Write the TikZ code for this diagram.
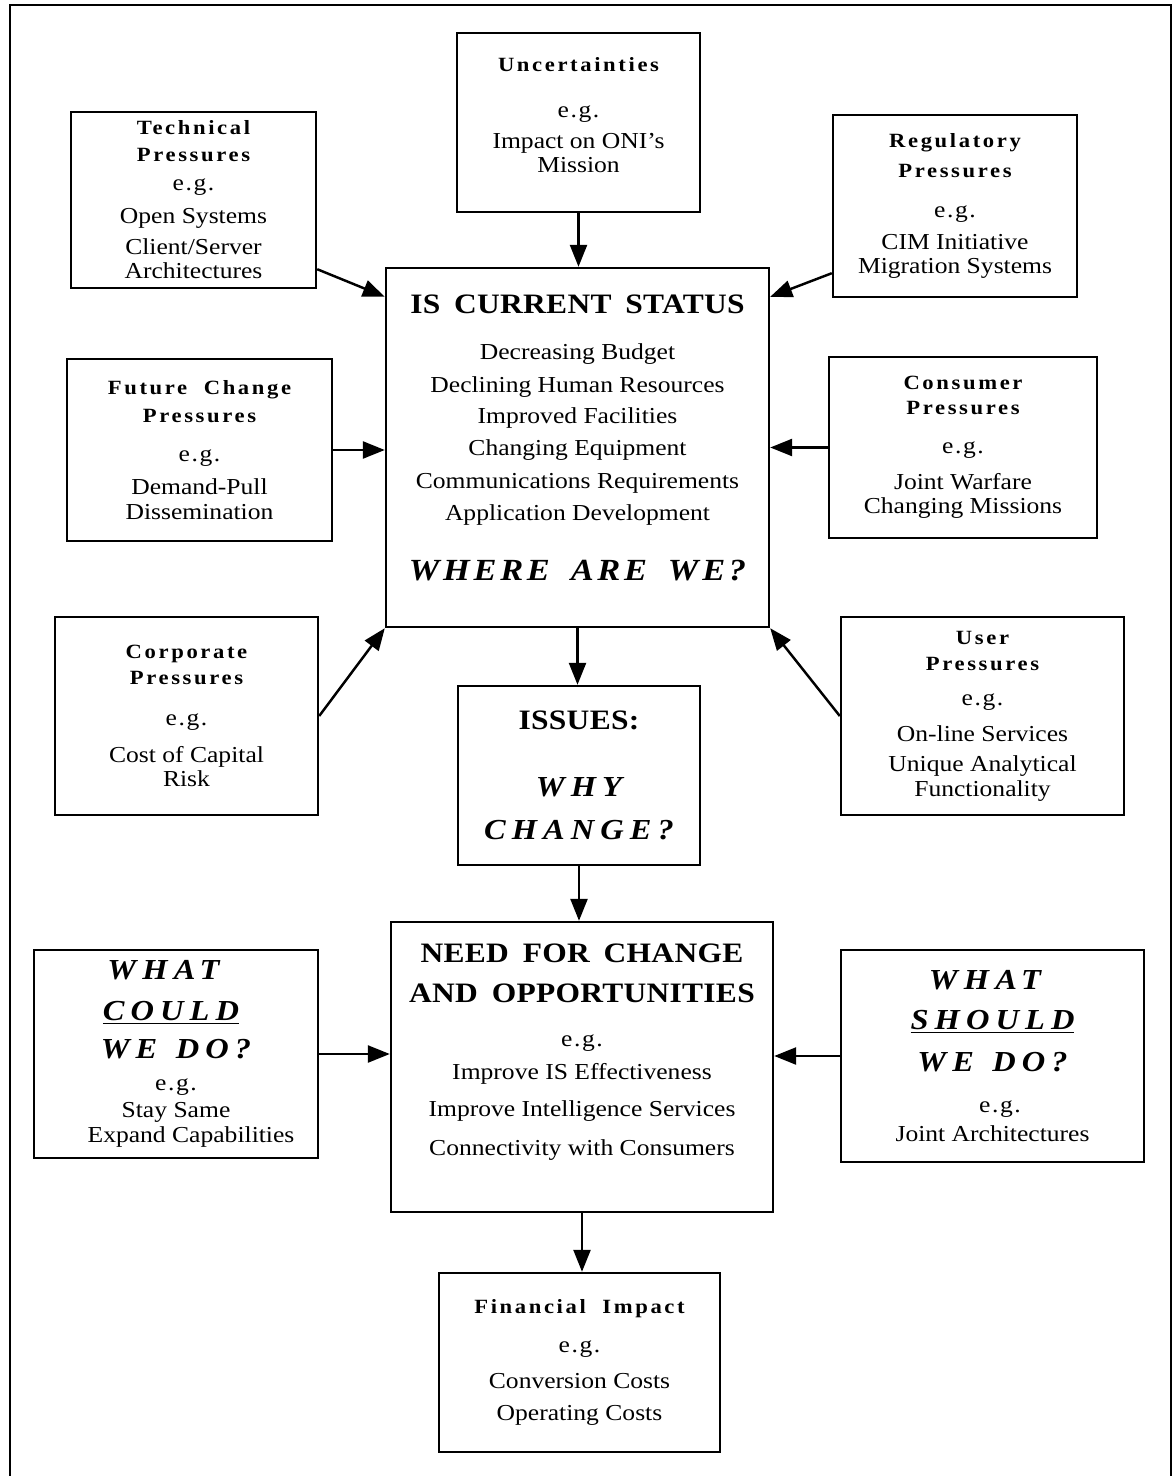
\documentclass[tikz,border=0pt]{standalone}
\usepackage{fontspec}
\setmainfont[FakeStretch=1.12]{Liberation Serif}
\newfontfamily\hdfont[FakeStretch=1.12, LetterSpace=13, WordSpace=2]{Liberation Serif}
\newfontfamily\egfont[FakeStretch=1.12, LetterSpace=7]{Liberation Serif}
\newfontfamily\bigfont[FakeStretch=1.12, LetterSpace=1, WordSpace=1.7]{Liberation Serif}
\newfontfamily\qfont[FakeStretch=1.12, LetterSpace=21, WordSpace=1.3]{Liberation Serif}
\newfontfamily\wherefont[FakeStretch=1.12, LetterSpace=12, WordSpace=1.7]{Liberation Serif}
\usetikzlibrary{arrows.meta}
% heading fonts
\newcommand{\hd}{\hdfont\bfseries\fontsize{11.5}{14}\selectfont}
\newcommand{\eg}{{\egfont e.g.}}
\newcommand{\bighd}{\bigfont\bfseries\fontsize{16}{14}\selectfont}
\newcommand{\bigq}{\qfont\bfseries\itshape\fontsize{16.5}{14}\selectfont}
\begin{document}
\begin{tikzpicture}[x=0.02cm, y=-0.02cm,
    font=\fontsize{13}{14}\selectfont,
    box/.style={draw, line width=1.4pt, align=center, inner sep=0pt},
    arr/.style={line width=1.4pt, -{Triangle[length=0.44cm, width=0.34cm]}}]
    \useasboundingbox (0,0) rectangle (1175,1476);
    % Outer frame (its bottom edge is cut off)
    \draw[line width=1.4pt] (10,1476) -- (10,5) -- (1171,5) -- (1171,1476);

    % Central node
    \node[box, minimum width=7.66cm, minimum height=7.18cm] (cur) at (577.5,447.5) {
        {\bighd IS CURRENT STATUS}\\[12pt]
        Decreasing Budget\\[5pt]
        Declining Human Resources\\[3.5pt]
        Improved Facilities\\[4pt]
        Changing Equipment\\[5pt]
        Communications Requirements\\[4pt]
        Application Development\\[19pt]
        {\wherefont\bfseries\itshape\fontsize{17.5}{14}\selectfont WHERE ARE WE?}\\[-3pt]\mbox{}
    };

    % Pressures around it
    \node[box, minimum width=4.86cm, minimum height=3.58cm] (unc) at (578.5,122.5) {
        {\hd Uncertainties}\\[12pt]
        \eg\\[3.5pt]
        Impact on ONI's\\
        Mission\\[-6pt]\mbox{}
    };
    \node[box, minimum width=4.9cm, minimum height=3.52cm] (tech) at (193.5,200) {
        {\hd Technical}\\[1pt]
        {\hd Pressures}\\[2.5pt]
        \eg\\[5pt]
        Open Systems\\[3.5pt]
        Client/Server\\
        Architectures
    };
    \node[box, minimum width=4.88cm, minimum height=3.64cm] (reg) at (955,206) {
        {\hd Regulatory}\\[3pt]
        {\hd Pressures}\\[9pt]
        \eg\\[4pt]
        CIM Initiative\\
        Migration Systems
    };
    \node[box, minimum width=5.3cm, minimum height=3.64cm] (fut) at (199.5,450) {
        {\hd Future Change}\\[2pt]
        {\hd Pressures}\\[8pt]
        \eg\\[5pt]
        Demand-Pull\\
        Dissemination
    };
    \node[box, minimum width=5.36cm, minimum height=3.62cm] (cons) at (963,447.5) {
        {\hd Consumer}\\
        {\hd Pressures}\\[8pt]
        \eg\\[6.5pt]
        Joint Warfare\\
        Changing Missions
    };
    \node[box, minimum width=5.26cm, minimum height=3.96cm] (corp) at (186.5,716) {
        {\hd Corporate}\\[1pt]
        {\hd Pressures}\\[9pt]
        \eg\\[7pt]
        Cost of Capital\\
        Risk
    };
    \node[box, minimum width=5.66cm, minimum height=3.96cm] (user) at (982.5,716) {
        {\hd User}\\[1pt]
        {\hd Pressures}\\[6pt]
        \eg\\[6.5pt]
        On-line Services\\[3pt]
        Unique Analytical\\
        Functionality
    };

    % Issues
    \node[box, minimum width=4.84cm, minimum height=3.58cm] (iss) at (579,775.5) {
        {\bighd ISSUES:}\\[24pt]
        {\bigq WHY}\\[11pt]
        {\bigq CHANGE?}
    };

    % Need for change and the two questions
    \node[box, minimum width=7.64cm, minimum height=5.8cm] (need) at (582,1067) {
        {\bighd NEED FOR CHANGE}\\[9pt]
        {\bighd AND OPPORTUNITIES}\\[11pt]
        \eg\\[5pt]
        Improve IS Effectiveness\\[7pt]
        Improve Intelligence Services\\[8pt]
        Connectivity with Consumers\\[6pt]\mbox{}
    };
    \node[box, minimum width=5.68cm, minimum height=4.16cm] (could) at (176,1054) {
        \hspace*{-0.5cm}{\bigq WHAT}\\[9pt]
        \hspace*{-0.2cm}{\bigq \underline{COULD}}\\[8pt]
        {\bigq WE DO?}\\[4pt]
        \eg\\[1.5pt]
        Stay Same\\
        \hspace*{0.6cm}Expand Capabilities
    };
    \node[box, minimum width=6.06cm, minimum height=4.24cm] (should) at (992.5,1056) {
        \hspace*{-0.3cm}{\bigq WHAT}\\[9pt]
        {\bigq \underline{SHOULD}}\\[10pt]
        {\bigq WE DO?}\\[9pt]
        \hspace*{0.3cm}\eg\\[3pt]
        Joint Architectures
    };

    % Financial impact
    \node[box, minimum width=5.62cm, minimum height=3.58cm] (fin) at (579.5,1362.5) {
        {\hd Financial Impact}\\[8pt]
        \eg\\[6.5pt]
        Conversion Costs\\[4pt]
        Operating Costs
    };

    % Arrows
    \draw[arr] (unc.south) -- (unc.south |- cur.north);
    \draw[arr] ([yshift=0.4cm]tech.south east) -- ([yshift=-0.6cm]cur.north west);
    \draw[arr] ([yshift=0.5cm]reg.south west) -- ([yshift=-0.6cm]cur.north east);
    \draw[arr] (fut.east) -- (fut.east -| cur.west);
    \draw[arr] (cons.west) -- (cons.west -| cur.east);
    \draw[arr] (corp.east) -- (cur.south west);
    \draw[arr] (user.west) -- (cur.south east);
    \draw[arr] (cur.south) -- (cur.south |- iss.north);
    \draw[arr] (iss.south) -- (iss.south |- need.north);
    \draw[arr] (could.east) -- (could.east -| need.west);
    \draw[arr] (should.west) -- (should.west -| need.east);
    \draw[arr] (need.south) -- (need.south |- fin.north);
\end{tikzpicture}
\end{document}
